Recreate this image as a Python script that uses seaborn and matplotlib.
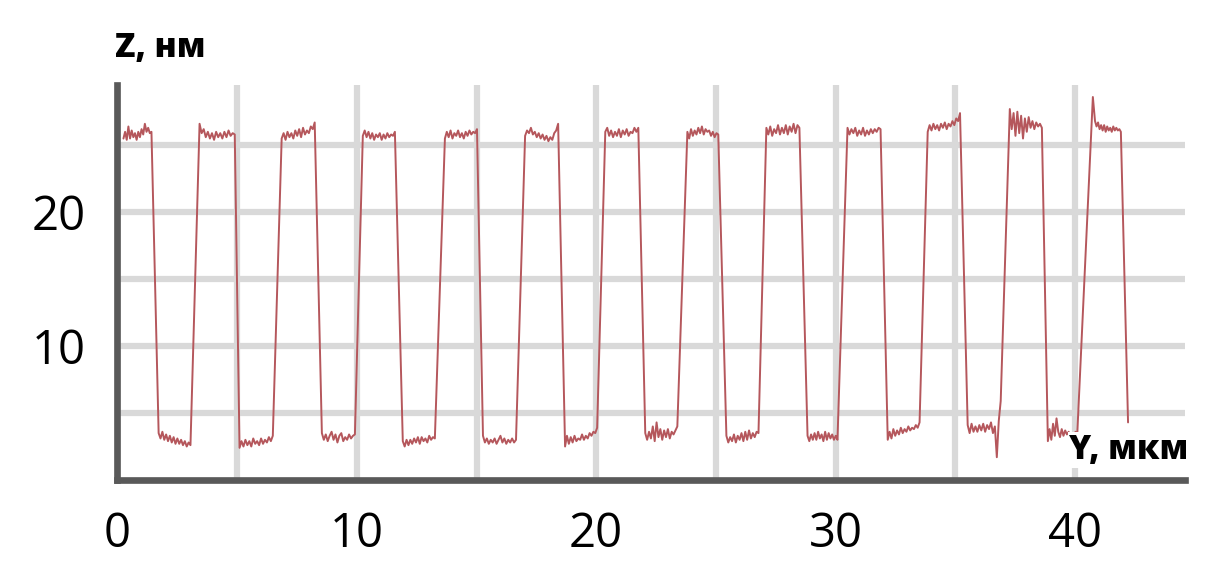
import numpy as np
import pandas as pd
import seaborn as sns
from matplotlib import pyplot as plt

# ---------- Данные профиля ----------
# верхние площадки: начало/конец по Y (мкм) и значения Z (нм)
high_x = [(0.25, 1.42), (3.43, 4.90), (6.86, 8.24), (10.25, 11.59), (13.68, 15.02),
          (17.03, 18.41), (20.38, 21.76), (23.81, 25.10), (27.11, 28.49), (30.50, 31.88),
          (33.85, 35.20), (37.28, 38.62), (40.84, 41.92)]
high_z = [
    [25.5, 26.0, 25.4, 26.4, 25.5, 26.1, 25.6, 25.9, 25.4, 26.0, 25.6, 26.2, 25.8, 26.6, 26.0, 26.3, 25.9, 26.0],
    [26.6, 25.9, 26.2, 25.6, 26.0, 25.5, 25.9, 25.4, 26.0, 25.6, 25.9, 25.5, 26.0, 25.6, 26.1, 25.7, 25.9, 25.8],
    [25.5, 25.9, 25.4, 26.0, 25.6, 25.9, 25.5, 26.1, 25.7, 26.2, 25.6, 26.3, 25.8, 26.1, 25.9, 26.4, 26.2, 26.7],
    [25.7, 26.1, 25.6, 26.0, 25.5, 25.9, 25.4, 25.8, 25.6, 25.9, 25.4, 25.8, 25.5, 25.9, 25.6, 25.8, 25.7, 26.0],
    [25.5, 26.0, 25.6, 26.1, 25.5, 25.9, 25.7, 26.1, 25.6, 25.9, 25.5, 26.0, 25.7, 26.1, 25.8, 26.0, 25.9, 26.2],
    [25.7, 26.1, 25.9, 26.3, 25.8, 26.0, 25.6, 25.9, 25.5, 25.8, 25.4, 25.7, 25.3, 25.6, 25.4, 25.9, 26.1, 26.6],
    [26.0, 26.3, 25.7, 26.1, 25.6, 26.0, 25.7, 26.2, 25.6, 26.1, 25.8, 26.2, 25.7, 26.0, 25.9, 26.3, 26.0, 26.3],
    [26.0, 25.5, 26.2, 25.7, 26.1, 25.8, 26.3, 25.9, 26.4, 25.8, 26.2, 26.0, 26.1, 25.7, 26.0, 25.6, 25.9, 25.8],
    [26.3, 25.8, 26.4, 25.7, 26.2, 25.9, 26.5, 25.8, 26.3, 25.9, 26.5, 25.8, 26.4, 26.0, 26.6, 25.9, 26.5, 26.3],
    [26.3, 25.8, 26.2, 25.9, 26.3, 25.7, 26.1, 25.8, 26.3, 25.7, 26.1, 25.8, 26.2, 25.9, 26.2, 26.0, 26.3, 26.2],
    [26.0, 26.5, 26.1, 26.6, 26.2, 26.5, 26.1, 26.6, 26.3, 26.7, 26.2, 26.6, 26.4, 26.8, 26.5, 27.0, 26.8, 27.4],
    [27.7, 26.2, 27.4, 25.7, 27.5, 25.9, 27.2, 25.5, 27.0, 26.0, 27.1, 26.3, 26.8, 26.2, 26.7, 26.4, 26.6, 26.3],
    [26.8, 26.4, 26.7, 26.2, 26.5, 26.1, 26.5, 26.0, 26.4, 26.1, 26.3, 26.0, 26.4, 26.1, 26.3, 26.1, 26.2, 26.0],
]

# нижние площадки
low_x = [(1.72, 3.05), (5.10, 6.49), (8.54, 9.92), (11.92, 13.26), (15.27, 16.65),
         (18.70, 20.04), (22.05, 23.39), (25.44, 26.78), (28.83, 30.08), (32.18, 33.51),
         (35.52, 36.90), (38.87, 40.10)]
low_z = [
    [3.5, 3.1, 3.6, 3.0, 3.4, 2.9, 3.3, 2.8, 3.2, 2.7, 3.1, 2.7, 3.0, 2.6, 2.9, 2.5, 2.8, 2.6],
    [2.4, 2.9, 2.5, 3.0, 2.6, 2.9, 2.5, 3.1, 2.7, 2.9, 2.6, 3.1, 2.7, 3.0, 2.8, 3.2, 2.9, 3.3],
    [3.5, 3.0, 3.4, 2.9, 3.3, 3.6, 3.0, 3.4, 2.8, 3.3, 3.5, 2.9, 3.2, 3.0, 3.4, 3.1, 3.3, 3.4],
    [2.9, 2.5, 3.0, 2.6, 3.0, 2.7, 3.1, 2.8, 3.2, 2.7, 3.2, 2.9, 3.1, 2.8, 3.3, 3.0, 3.2, 3.1],
    [3.3, 2.8, 3.1, 2.7, 3.0, 2.8, 3.1, 2.7, 3.0, 3.3, 2.8, 3.1, 2.7, 3.0, 2.8, 3.1, 2.8, 3.0],
    [2.5, 3.3, 2.7, 3.2, 2.8, 3.3, 2.9, 3.1, 3.0, 3.4, 3.0, 3.3, 3.1, 3.5, 3.3, 3.6, 3.5, 3.9],
    [3.5, 3.0, 3.6, 3.1, 4.0, 2.9, 4.3, 3.2, 3.8, 3.0, 3.7, 3.2, 3.8, 3.1, 3.6, 3.4, 3.7, 4.0],
    [3.3, 2.8, 3.2, 2.9, 3.4, 2.8, 3.3, 3.0, 3.5, 2.9, 3.6, 3.0, 3.7, 3.1, 3.5, 3.2, 3.6, 3.5],
    [3.3, 2.9, 3.4, 3.0, 3.5, 3.0, 3.6, 3.1, 3.4, 2.9, 3.6, 3.0, 3.5, 3.1, 3.4, 3.0, 3.3, 3.0],
    [3.0, 3.6, 3.1, 3.8, 3.3, 3.7, 3.4, 3.9, 3.5, 3.8, 3.6, 4.0, 3.7, 3.9, 3.8, 4.1, 3.9, 4.3],
    [4.1, 3.5, 4.2, 3.6, 4.0, 3.6, 4.1, 3.7, 4.2, 3.6, 4.1, 3.8, 4.3, 3.5, 4.0, 1.7, 4.4, 5.9],
    [2.9, 3.8, 3.0, 4.2, 3.3, 4.6, 3.6, 3.2, 3.8, 3.3, 3.7, 3.4, 3.6, 3.3, 3.5, 3.4, 3.6, 3.5],
]

# выброс перед последней площадкой и конец профиля
peak_x, peak_z = 40.75, 28.6
end_x, end_z = 42.22, 4.3

# собираем профиль по порядку
ys, zs = [], []
for i in range(len(high_x)):
    if i == len(high_x) - 1:
        ys.append(peak_x)
        zs.append(peak_z)
    x0, x1 = high_x[i]
    ys += list(np.linspace(x0, x1, len(high_z[i])))
    zs += high_z[i]
    if i < len(low_x):
        x0, x1 = low_x[i]
        ys += list(np.linspace(x0, x1, len(low_z[i])))
        zs += low_z[i]
ys.append(end_x)
zs.append(end_z)
df = pd.DataFrame({'y_mkm': ys, 'z_nm': zs})

# ---------- График ----------
sns.set_theme(style="white")
plt.rcParams['font.family'] = ['Open Sans', 'DejaVu Sans']

fig = plt.figure(figsize=(12.06, 5.74), dpi=100)
ax = fig.add_axes([0.0974, 0.1638, 0.8852, 0.6882])

sns.lineplot(data=df, x='y_mkm', y='z_nm', sort=False, estimator=None,
             color='#b5575c', linewidth=1.4, ax=ax, zorder=3)

ax.set_xlim(0, 44.6)
ax.set_ylim(0, 29.5)
ax.set_xticks([0, 10, 20, 30, 40])
ax.set_xticks([5, 15, 25, 35], minor=True)
ax.set_yticks([10, 20])
ax.set_yticks([5, 15, 25], minor=True)
ax.grid(True, which='both', color='#d9d9d9', linewidth=4.5)
ax.set_axisbelow(True)
ax.tick_params(which='both', length=4, width=4.5, color='#d9d9d9', direction='out')
ax.tick_params(axis='both', labelsize=34, labelcolor='black')
ax.tick_params(axis='y', pad=19)
ax.tick_params(axis='x', pad=18)

for side in ['top', 'right']:
    ax.spines[side].set_visible(False)
for side in ['left', 'bottom']:
    ax.spines[side].set_color('#595959')
    ax.spines[side].set_linewidth(4.8)
    ax.spines[side].set_capstyle('projecting')

ax.set_xlabel('')
ax.set_ylabel('')

fig.text(115 / 1206, 1 - 57 / 574, 'Z, нм', fontsize=24, fontweight='heavy',
         color='black', ha='left', va='baseline')
fig.text(1069 / 1206, 1 - 459 / 574, 'Y, мкм', fontsize=24, fontweight='heavy',
         color='black', ha='left', va='baseline',
         bbox=dict(facecolor='white', edgecolor='none', pad=1))

fig.savefig('out.png', dpi=100)
